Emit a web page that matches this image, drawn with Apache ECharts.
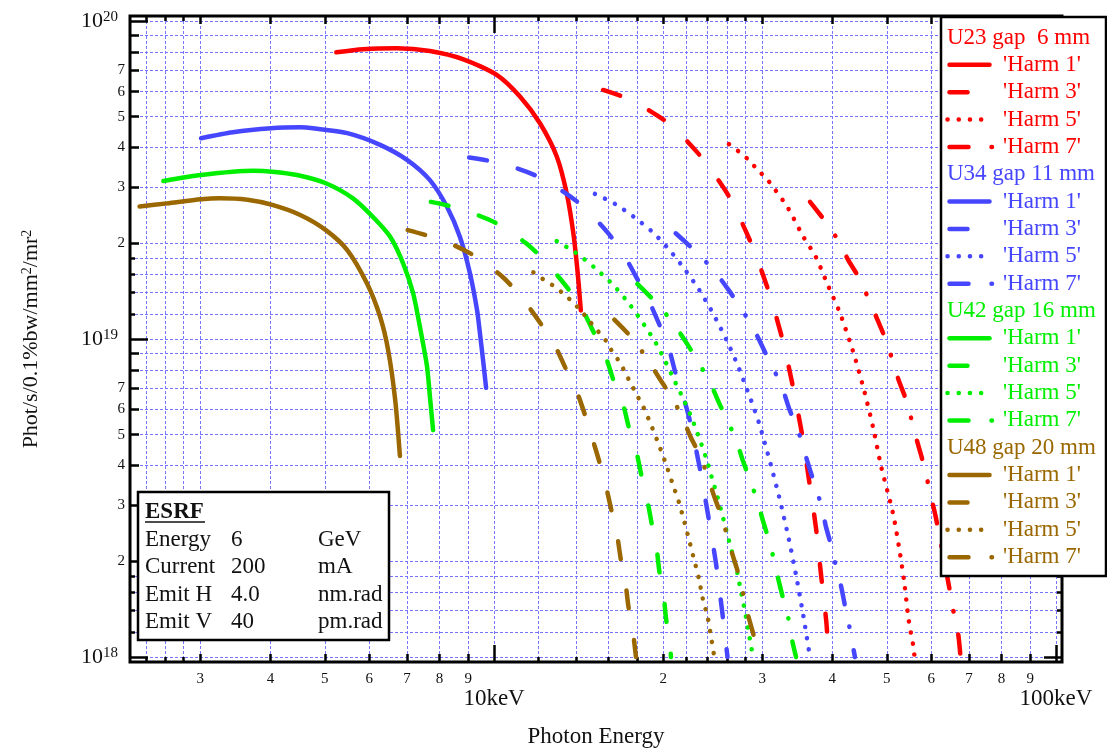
<!DOCTYPE html>
<html>
<head>
<meta charset="utf-8">
<title>Undulator brilliance</title>
<script src="https://cdn.jsdelivr.net/npm/echarts@6.0.0/dist/echarts.min.js"></script>
<style>
  html, body { margin: 0; padding: 0; background: #ffffff; }
  #chart { width: 1107px; height: 749px; }
</style>
</head>
<body>
<div id="chart"></div>
<script>
// Brilliance tuning curves of four ESRF undulators, odd harmonics 1..7.
// Energies in keV, brilliance in units of 1e18 phot/s/0.1%bw/mm²/mr².
const BRILLIANCE_UNIT = 1e18;

// U23, gap 6 mm
const u23h1E = [5.24, 5.85, 6.71, 7.69, 8.82, 10.11, 11.13, 12.07, 12.93, 13.47, 13.84, 14.09, 14.27];
const u23h1B = [79.7, 81.5, 82.1, 80.5, 75.8, 67.7, 57.8, 47.7, 37.5, 28.7, 21.5, 16.1, 12.3];
const u23h3E = [15.63, 17.11, 19.03, 20.73, 22.98, 24.53, 26.30, 28.78, 30.86, 32.62, 34.04, 35.32, 36.39, 37.41, 38.19, 39.03, 39.38];
const u23h3B = [60.7, 57.4, 51.9, 46.8, 38.7, 33.4, 27.7, 19.7, 14.0, 9.93, 7.07, 5.03, 3.56, 2.54, 1.81, 1.285, 1.0];
const u23h5E = [26.19, 27.29, 28.42, 29.46, 30.61, 31.59, 33.36, 35.50, 37.36, 39.25, 41.28, 43.58, 45.54, 47.30, 48.82, 51.35, 52.77, 53.70, 54.69, 55.82, 56.0];
const u23h5B = [41.0, 38.8, 36.5, 34.0, 31.8, 29.6, 25.8, 21.0, 18.15, 14.8, 12.05, 9.10, 6.91, 5.24, 3.99, 2.80, 2.12, 1.72, 1.307, 1.065, 1.0];
const u23h7E = [36.50, 38.96, 41.05, 42.70, 44.93, 46.42, 48.11, 49.72, 51.07, 52.41, 54.03, 55.21, 56.35, 57.68, 58.88, 59.93, 61.09, 64.95, 65.84, 67.02, 67.63];
const u23h7B = [27.0, 23.3, 20.3, 17.7, 15.25, 13.3, 11.5, 10.0, 8.67, 7.48, 6.48, 5.66, 4.91, 4.25, 3.67, 3.19, 2.76, 1.567, 1.365, 1.173, 1.0];

// U34, gap 11 mm
const u34h1E = [3.01, 3.43, 4.01, 4.52, 4.76, 5.48, 6.27, 7.00, 7.69, 8.25, 8.70, 9.06, 9.33, 9.44, 9.56, 9.68];
const u34h1B = [42.8, 44.7, 46.0, 46.3, 46.0, 44.4, 40.8, 36.6, 31.6, 26.0, 20.9, 16.1, 12.3, 10.4, 8.59, 7.02];
const u34h3E = [9.03, 9.84, 10.99, 11.98, 13.28, 14.46, 16.04, 16.99, 18.11, 18.89, 19.82, 20.48, 21.08, 21.67, 22.33, 23.26, 24.07, 24.83, 25.45, 26.03];
const u34h3B = [37.2, 36.3, 34.4, 32.4, 29.05, 25.95, 21.3, 18.5, 15.1, 13.1, 10.8, 9.32, 7.71, 6.67, 5.50, 3.89, 2.76, 1.97, 1.405, 1.0];
const u34h5E = [15.12, 16.42, 17.74, 19.20, 20.65, 21.94, 23.16, 24.30, 25.32, 26.30, 27.21, 28.05, 28.87, 29.66, 30.99, 32.29, 33.46, 34.51, 35.50, 36.39, 36.50];
const u34h5B = [28.6, 26.6, 24.2, 21.6, 18.8, 16.4, 14.3, 12.4, 10.8, 9.39, 8.18, 7.11, 6.20, 5.40, 4.10, 3.10, 2.35, 1.79, 1.355, 1.032, 1.0];
const u34h7E = [21.05, 22.95, 24.63, 26.12, 27.66, 29.02, 30.23, 31.49, 32.65, 33.54, 34.66, 35.50, 36.39, 37.36, 38.30, 38.96, 39.89, 40.59, 41.44, 42.13, 42.83, 43.48, 43.88];
const u34h7B = [21.5, 18.7, 16.4, 14.3, 12.3, 10.7, 9.23, 7.99, 6.95, 6.01, 5.24, 4.55, 3.94, 3.41, 2.96, 2.57, 2.21, 1.93, 1.676, 1.447, 1.261, 1.091, 1.0];

// U42, gap 16 mm
const u42h1E = [2.58, 3.01, 3.73, 4.03, 4.46, 5.02, 5.61, 6.09, 6.53, 6.89, 7.18, 7.39, 7.60, 7.69, 7.79];
const u42h1B = [31.4, 32.8, 33.8, 33.6, 32.8, 30.9, 27.7, 24.2, 21.0, 17.3, 13.9, 10.8, 8.18, 6.58, 5.17];
const u42h3E = [7.72, 8.41, 9.34, 10.18, 11.36, 12.32, 13.50, 14.32, 15.12, 15.76, 16.37, 16.94, 17.41, 17.89, 18.31, 18.69, 19.08, 19.42, 19.68, 20.01, 20.23, 20.51, 20.65];
const u42h3B = [27.0, 26.1, 24.55, 22.95, 20.1, 17.6, 14.5, 12.5, 10.3, 8.91, 7.29, 6.30, 5.20, 4.48, 3.69, 3.19, 2.63, 2.28, 1.87, 1.61, 1.323, 1.145, 1.0];
const u42h5E = [12.93, 13.96, 15.08, 16.35, 17.46, 18.49, 19.42, 20.23, 20.99, 21.79, 22.53, 23.19, 23.84, 24.41, 24.96, 25.48, 26.00, 26.55, 27.10, 27.51, 27.97, 28.35, 28.74, 28.84];
const u42h5B = [20.3, 18.7, 16.8, 14.7, 12.8, 11.1, 9.69, 8.42, 7.34, 6.40, 5.59, 4.87, 4.23, 3.67, 3.21, 2.80, 2.44, 2.12, 1.84, 1.604, 1.388, 1.210, 1.057, 1.0];
const u42h7E = [17.99, 19.52, 20.84, 22.03, 23.16, 24.23, 25.14, 26.12, 27.04, 27.77, 28.63, 29.41, 30.07, 30.86, 31.49, 32.06, 32.72, 33.40, 33.86, 34.47];
const u42h7B = [14.9, 12.9, 11.2, 9.69, 8.39, 7.31, 6.30, 5.47, 4.73, 4.11, 3.56, 3.09, 2.70, 2.32, 2.02, 1.754, 1.518, 1.323, 1.145, 1.0];

// U48, gap 20 mm
const u48h1E = [2.34, 2.62, 3.01, 3.25, 3.64, 4.03, 4.52, 5.02, 5.48, 5.94, 6.27, 6.48, 6.67, 6.80];
const u48h1B = [26.1, 26.7, 27.5, 27.7, 27.4, 26.4, 24.55, 22.0, 19.05, 14.97, 11.75, 9.23, 6.43, 4.29];
const u48h3E = [7.02, 7.64, 8.55, 9.28, 10.35, 11.20, 12.12, 12.79, 13.47, 14.04, 14.57, 14.96, 15.44, 15.81, 16.20, 16.54, 16.81, 17.11, 17.34, 17.63, 17.89];
const u48h3B = [22.0, 21.1, 19.6, 18.15, 15.7, 13.5, 11.15, 9.64, 7.95, 6.83, 5.66, 4.87, 4.04, 3.46, 2.86, 2.45, 2.03, 1.75, 1.447, 1.236, 1.0];
const u48h5E = [11.75, 12.24, 12.75, 13.28, 13.78, 14.29, 14.78, 15.30, 15.78, 16.15, 16.60, 16.99, 17.34, 17.70, 18.06, 18.44, 19.08, 19.68, 20.23, 20.77, 21.34, 21.81, 22.26, 22.69, 23.16, 23.51, 24.00, 24.33, 24.66];
const u48h5B = [16.2, 15.4, 14.7, 13.9, 13.1, 12.25, 11.4, 10.6, 9.93, 9.26, 8.63, 8.05, 7.50, 7.00, 6.54, 6.11, 5.31, 4.62, 4.04, 3.52, 3.06, 2.66, 2.32, 2.03, 1.759, 1.530, 1.333, 1.158, 1.0];
const u48h7E = [16.37, 17.69, 18.69, 19.74, 20.77, 21.63, 22.39, 23.33, 24.00, 24.66, 25.42, 26.00, 26.59, 27.29, 27.77, 28.28, 28.94, 29.41, 29.50];
const u48h7B = [11.5, 9.98, 8.70, 7.47, 6.51, 5.67, 4.91, 4.25, 3.69, 3.19, 2.76, 2.40, 2.09, 1.80, 1.574, 1.365, 1.179, 1.027, 1.0];

// Axis extents and tick positions (keV / brilliance)
const X_RANGE = [2.25, 102.5];
const Y_RANGE = [0.9645e18, 1.037e20];
const X_MAJOR_TICKS = [10, 100];
const X_MAJOR_LABELS = ['10keV', '100keV'];
const X_MEDIUM_TICKS = [3, 4, 5, 6, 7, 8, 9, 20, 30, 40, 50, 60, 70, 80, 90];
const X_MINOR_TICKS = [2.4, 2.6, 2.8, 12, 14, 16, 18, 22, 24, 26, 28];
const Y_MAJOR_TICKS = [1e18, 1e19, 1e20];
const Y_MEDIUM_TICKS = [2e18, 3e18, 4e18, 5e18, 6e18, 7e18, 8e18, 9e18, 2e19, 3e19, 4e19, 5e19, 6e19, 7e19, 8e19, 9e19];
const Y_LABELLED_TICKS = [2e18, 3e18, 4e18, 5e18, 6e18, 7e18, 2e19, 3e19, 4e19, 5e19, 6e19, 7e19];
const Y_MINOR_TICKS = [1.2e18, 1.4e18, 1.6e18, 1.8e18, 1.2e19, 1.4e19, 1.6e19, 1.8e19];

// Legend and info box text
const HARMONIC_LABELS = ["'Harm 1'", "'Harm 3'", "'Harm 5'", "'Harm 7'"];
const UNDULATOR_TITLES = ['U23 gap  6 mm', 'U34 gap 11 mm', 'U42 gap 16 mm', 'U48 gap 20 mm'];
const INFO_TITLE = 'ESRF';
const INFO_ROWS = [
  ['Energy', '6', 'GeV'],
  ['Current', '200', 'mA'],
  ['Emit H', '4.0', 'nm.rad'],
  ['Emit V', '40', 'pm.rad']
];

// ---- styling ----
const FONT = '"Liberation Serif", "Times New Roman", serif';
const COLORS = ['#ff0000', '#4646ff', '#00ee00', '#9a6700'];
const LINE_WIDTH = 4.5;
const DASHES = ['solid', [18, 32], [0.1, 11], [19, 23, 0.5, 23.5]];
const GRID_LINE = { color: '#7575ff', width: 1, type: [3, 2] };
const TICK_LINE = { color: '#000', width: 2.5 };

const CURVES = [
  [[u23h1E, u23h1B], [u23h3E, u23h3B], [u23h5E, u23h5B], [u23h7E, u23h7B]],
  [[u34h1E, u34h1B], [u34h3E, u34h3B], [u34h5E, u34h5B], [u34h7E, u34h7B]],
  [[u42h1E, u42h1B], [u42h3E, u42h3B], [u42h5E, u42h5B], [u42h7E, u42h7B]],
  [[u48h1E, u48h1B], [u48h3E, u48h3B], [u48h5E, u48h5B], [u48h7E, u48h7B]]
];

const LOG = Math.log10;
const near = (a, b) => Math.abs(a - b) < 1e-6;
const leadDigit = v => String(Math.round(Math.pow(10, v - Math.floor(v + 1e-9))));

// Builds one log-scaled axis (value axis over log10 of the data)
function logAxis(dim, position, ticks, tickLen, withGrid, label) {
  const range = dim === 'x' ? X_RANGE : Y_RANGE;
  return {
    type: 'value',
    position: position,
    min: LOG(range[0]),
    max: LOG(range[1]),
    axisLine: { show: false, onZero: false },
    axisTick: { show: true, inside: true, length: tickLen, customValues: ticks.map(LOG), lineStyle: TICK_LINE },
    splitLine: withGrid ? { show: true, lineStyle: GRID_LINE } : { show: false },
    axisLabel: label || { show: false },
    axisPointer: { show: false },
    nameMoveOverlap: false
  };
}

const xAxes = [
  Object.assign(logAxis('x', 'bottom', X_MAJOR_TICKS, 17, true, {
    show: true, customValues: X_MAJOR_TICKS.map(LOG), margin: 25,
    fontFamily: FONT, fontSize: 23, color: '#111',
    formatter: v => X_MAJOR_LABELS[X_MAJOR_TICKS.findIndex(t => near(LOG(t), v))]
  }), {
    name: 'Photon Energy', nameLocation: 'middle', nameGap: 63,
    nameTextStyle: { fontFamily: FONT, fontSize: 23, color: '#111' }
  }),
  logAxis('x', 'bottom', X_MEDIUM_TICKS, 8, true, {
    show: true, customValues: X_MEDIUM_TICKS.map(LOG), margin: 10,
    fontFamily: FONT, fontSize: 15, color: '#111', formatter: leadDigit
  }),
  logAxis('x', 'bottom', X_MINOR_TICKS, 5, true),
  logAxis('x', 'top', X_MAJOR_TICKS, 17, false),
  logAxis('x', 'top', X_MEDIUM_TICKS, 8, false),
  logAxis('x', 'top', X_MINOR_TICKS, 5, false)
];

const yAxes = [
  Object.assign(logAxis('y', 'left', Y_MAJOR_TICKS, 18, true, {
    show: true, customValues: Y_MAJOR_TICKS.map(LOG), margin: 12,
    formatter: v => '{b|10}{s|' + Math.round(v) + '}',
    rich: {
      b: { fontFamily: FONT, fontSize: 22, lineHeight: 22, color: '#111', verticalAlign: 'bottom' },
      s: { fontFamily: FONT, fontSize: 15, lineHeight: 15, color: '#111', verticalAlign: 'top', padding: [0, 0, 11, 0] }
    }
  }), {
    name: '{a|Phot/s/0.1%bw/mm}{s|2}{a|/mr}{s|2}', nameLocation: 'middle', nameGap: 88, nameRotate: 90,
    nameTextStyle: {
      rich: {
        a: { fontFamily: FONT, fontSize: 22, lineHeight: 22, color: '#111', verticalAlign: 'bottom' },
        s: { fontFamily: FONT, fontSize: 14, lineHeight: 14, color: '#111', verticalAlign: 'top', padding: [0, 0, 10, 0] }
      }
    }
  }),
  logAxis('y', 'left', Y_MEDIUM_TICKS, 9, true, {
    show: true, customValues: Y_LABELLED_TICKS.map(LOG), margin: 5,
    fontFamily: FONT, fontSize: 15, color: '#111', formatter: leadDigit
  }),
  logAxis('y', 'left', Y_MINOR_TICKS, 5, true),
  logAxis('y', 'right', Y_MAJOR_TICKS, 18, false),
  logAxis('y', 'right', Y_MEDIUM_TICKS, 9, false),
  logAxis('y', 'right', Y_MINOR_TICKS, 5, false)
];

const series = [];
CURVES.forEach((harmonics, u) => {
  harmonics.forEach(([energies, brill], h) => {
    series.push({
      type: 'line',
      name: UNDULATOR_TITLES[u] + ' ' + HARMONIC_LABELS[h],
      xAxisIndex: 0,
      yAxisIndex: 0,
      symbol: 'none',
      showSymbol: false,
      smooth: 0.25,
      silent: true,
      clip: true,
      z: 3 + u,
      lineStyle: { color: COLORS[u], width: LINE_WIDTH, type: DASHES[h], cap: 'round', join: 'round' },
      data: energies.map((e, i) => [LOG(e), LOG(brill[i] * BRILLIANCE_UNIT)])
    });
  });
});

// ---- legend box (right) and beam parameter box (bottom left) ----
const graphic = [];
const LEG = { left: 941, top: 17, right: 1106, bottom: 576, textX: 947, lineX0: 949.5, lineX1: 992, labelX: 1003, row0: 37.5, pitch: 27.35 };
const legendFont = '23px ' + FONT;
graphic.push({
  type: 'rect', z: 50,
  shape: { x: LEG.left, y: LEG.top, width: LEG.right - LEG.left, height: LEG.bottom - LEG.top },
  style: { fill: '#fff', stroke: '#000', lineWidth: 2.5 }
});
UNDULATOR_TITLES.forEach((title, u) => {
  const rowBase = u * 5;
  graphic.push({
    type: 'text', z: 51, x: LEG.textX, y: LEG.row0 + rowBase * LEG.pitch,
    style: { text: title, fill: COLORS[u], font: legendFont, align: 'left', verticalAlign: 'middle', textAlign: 'left', textVerticalAlign: 'middle' }
  });
  HARMONIC_LABELS.forEach((lab, h) => {
    const y = LEG.row0 + (rowBase + 1 + h) * LEG.pitch;
    const dash = DASHES[h];
    graphic.push({
      type: 'line', z: 51,
      shape: { x1: h === 2 ? LEG.lineX0 - 2 : LEG.lineX0, y1: y, x2: h === 0 ? LEG.lineX1 - 2.5 : LEG.lineX1, y2: y },
      style: { stroke: COLORS[u], lineWidth: LINE_WIDTH, lineCap: 'round', lineDash: dash === 'solid' ? null : (h === 2 ? [0.1, 11.1] : dash) }
    });
    graphic.push({
      type: 'text', z: 51, x: LEG.labelX, y: y,
      style: { text: lab, fill: COLORS[u], font: legendFont, align: 'left', verticalAlign: 'middle', textAlign: 'left', textVerticalAlign: 'middle' }
    });
  });
});

const INFO = { left: 138, top: 492, right: 389, bottom: 640, colX: [145, 231, 318], titleY: 512, row0: 540, pitch: 27.3 };
const infoFont = '23px ' + FONT;
graphic.push({
  type: 'rect', z: 50,
  shape: { x: INFO.left, y: INFO.top, width: INFO.right - INFO.left, height: INFO.bottom - INFO.top },
  style: { fill: '#fff', stroke: '#000', lineWidth: 2.5 }
});
graphic.push({
  type: 'text', z: 51, x: INFO.colX[0], y: INFO.titleY,
  style: { text: INFO_TITLE, fill: '#111', font: 'bold 23px ' + FONT, align: 'left', verticalAlign: 'middle', textAlign: 'left', textVerticalAlign: 'middle' }
});
graphic.push({
  type: 'line', z: 51,
  shape: { x1: INFO.colX[0], y1: INFO.titleY + 10, x2: INFO.colX[0] + 60, y2: INFO.titleY + 10 },
  style: { stroke: '#111', lineWidth: 1.5 }
});
INFO_ROWS.forEach((row, r) => {
  row.forEach((txt, c) => {
    graphic.push({
      type: 'text', z: 51, x: INFO.colX[c], y: INFO.row0 + r * INFO.pitch,
      style: { text: txt, fill: '#111', font: infoFont, align: 'left', verticalAlign: 'middle', textAlign: 'left', textVerticalAlign: 'middle' }
    });
  });
});

const chart = echarts.init(document.getElementById('chart'), null, { renderer: 'canvas' });
chart.setOption({
  animation: false,
  backgroundColor: '#ffffff',
  grid: {
    left: 130, right: 45, top: 16, bottom: 87,
    containLabel: false, outerBoundsMode: 'none',
    show: true, borderColor: '#000', borderWidth: 3, backgroundColor: 'transparent'
  },
  xAxis: xAxes,
  yAxis: yAxes,
  series: series,
  graphic: graphic
});
</script>
</body>
</html>
